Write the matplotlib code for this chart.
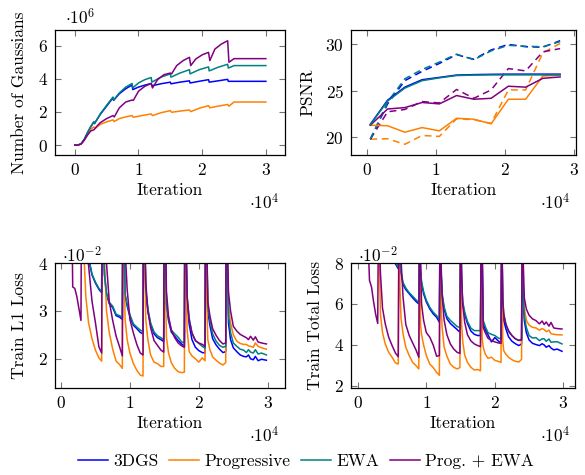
#!/usr/bin/env python3

"""
Training curves for 3DGS variants: number of Gaussians, PSNR and train losses.
"""

import matplotlib as mpl
import matplotlib.pyplot as plt
from matplotlib.lines import Line2D

mpl.use("Agg")

plt.rcParams["font.family"] = "cmr10"
plt.rcParams["mathtext.fontset"] = "cm"
plt.rcParams["axes.formatter.use_mathtext"] = True
plt.rcParams["font.size"] = 12.5

methods = ["3DGS", "Progressive", "EWA", "Prog. + EWA"]
colors = ["#0000ff", "#ff8000", "#008080", "#800080"]

# Number of Gaussians (x in 1e4 iterations, y in 1e6)
gauss_iter_3dgs = [0, 0.05, 0.1, 0.15, 0.2, 0.25, 0.3, 0.31, 0.4, 0.5, 0.6, 0.61, 0.7, 0.8, 0.9,
                   0.91, 1.0, 1.1, 1.2, 1.21, 1.35, 1.5, 1.51, 1.65, 1.8, 1.81, 1.95, 2.1, 2.11,
                   2.25, 2.4, 2.41, 2.5, 3.0]
gauss_3dgs = [0, 0, 0.08, 0.35, 0.75, 1.1, 1.4, 1.3, 1.85, 2.35, 2.85, 2.7, 3.1, 3.4, 3.63,
              3.35, 3.5, 3.62, 3.72, 3.58, 3.7, 3.8, 3.7, 3.8, 3.88, 3.75, 3.85, 3.95, 3.8,
              3.88, 3.97, 3.85, 3.85, 3.85]
gauss_iter_ewa = gauss_iter_3dgs
gauss_ewa = [0, 0, 0.08, 0.35, 0.75, 1.1, 1.4, 1.3, 1.88, 2.4, 2.9, 2.72, 3.15, 3.5, 3.72,
             3.45, 3.75, 3.95, 4.08, 3.8, 4.1, 4.3, 4.1, 4.35, 4.55, 4.3, 4.55, 4.72, 4.48,
             4.7, 4.88, 4.65, 4.8, 4.8]
gauss_iter_prog = [0, 0.05, 0.1, 0.15, 0.2, 0.25, 0.3, 0.32, 0.4, 0.5, 0.6, 0.62, 0.7, 0.8, 0.9,
                   0.92, 1.05, 1.2, 1.22, 1.35, 1.5, 1.52, 1.65, 1.8, 1.82, 1.95, 2.1, 2.12,
                   2.25, 2.4, 2.42, 2.5, 3.0]
gauss_prog = [0, 0, 0.06, 0.3, 0.65, 0.95, 1.1, 1.0, 1.25, 1.4, 1.52, 1.42, 1.6, 1.7, 1.78,
              1.68, 1.78, 1.88, 1.78, 1.95, 2.08, 1.98, 2.05, 2.12, 2.02, 2.22, 2.38, 2.25,
              2.35, 2.45, 2.35, 2.6, 2.6]
gauss_iter_progewa = [0, 0.05, 0.1, 0.15, 0.2, 0.25, 0.3, 0.35, 0.4, 0.5, 0.6, 0.62, 0.7, 0.8,
                      0.9, 0.92, 1.0, 1.1, 1.2, 1.22, 1.3, 1.4, 1.5, 1.52, 1.6, 1.7, 1.8, 1.82,
                      1.9, 2.0, 2.1, 2.12, 2.2, 2.3, 2.4, 2.42, 2.5, 3.0]
gauss_progewa = [0, 0, 0.06, 0.3, 0.6, 0.85, 0.92, 1.15, 1.35, 1.6, 1.78, 1.7, 2.25, 2.6,
                 2.72, 2.7, 3.25, 3.55, 3.72, 3.45, 3.95, 4.25, 4.35, 4.3, 4.8, 5.1, 5.3, 4.8,
                 5.2, 5.45, 5.6, 5.1, 5.8, 6.1, 6.3, 5.0, 5.22, 5.22]

# PSNR evaluated every 2500 iterations (solid and dashed runs)
psnr_iter = [0.05, 0.3, 0.55, 0.8, 1.05, 1.3, 1.55, 1.8, 2.05, 2.3, 2.55, 2.8]
psnr_solid_3dgs = [21.4, 24.0, 25.4, 26.2, 26.45, 26.7, 26.75, 26.78, 26.8, 26.8, 26.8, 26.8]
psnr_solid_prog = [21.3, 21.25, 20.55, 21.05, 20.7, 22.05, 21.95, 21.45, 24.1, 24.1, 26.6, 26.7]
psnr_solid_ewa = [21.35, 23.9, 25.3, 26.1, 26.4, 26.65, 26.7, 26.72, 26.72, 26.72, 26.72, 26.72]
psnr_solid_progewa = [21.3, 23.05, 23.2, 23.75, 23.6, 24.5, 24.1, 24.2, 25.5, 25.4, 26.35, 26.5]
psnr_dashed_3dgs = [19.8, 23.6, 26.1, 27.1, 27.95, 28.9, 28.4, 29.4, 30.0, 29.75, 29.7, 30.4]
psnr_dashed_prog = [19.8, 19.85, 19.25, 20.2, 20.1, 22.0, 21.9, 21.5, 25.1, 25.1, 29.1, 30.1]
psnr_dashed_ewa = [19.8, 23.8, 26.3, 27.3, 28.1, 28.95, 28.35, 29.3, 29.9, 29.8, 29.75, 30.3]
psnr_dashed_progewa = [19.8, 22.75, 23.0, 23.85, 23.7, 25.15, 24.2, 25.1, 27.4, 27.15, 29.2, 29.55]

# Train losses (x in 1e4 iterations, y in 1e-2), opacity reset every 3000 iterations
loss_iter = [0.15, 0.17, 0.2, 0.23, 0.26, 0.29,
             0.3, 0.315, 0.33, 0.36, 0.4, 0.45, 0.5, 0.55, 0.59,
             0.6, 0.615, 0.63, 0.66, 0.7, 0.75, 0.8, 0.85, 0.89,
             0.9, 0.915, 0.93, 0.96, 1.0, 1.05, 1.1, 1.15, 1.19,
             1.2, 1.215, 1.23, 1.26, 1.3, 1.35, 1.4, 1.45, 1.49,
             1.5, 1.515, 1.53, 1.56, 1.6, 1.65, 1.7, 1.75, 1.79,
             1.8, 1.815, 1.83, 1.86, 1.9, 1.95, 2.0, 2.05, 2.09,
             2.1, 2.115, 2.13, 2.16, 2.2, 2.25, 2.3, 2.35, 2.39,
             2.4, 2.415, 2.43, 2.46, 2.5, 2.55, 2.6, 2.65, 2.69, 2.72, 2.75, 2.79, 2.82, 2.86,
             2.91, 2.98]

l1_3dgs = [9, 8.5, 8, 7.5, 7, 6.8,
           6.5, 6.0, 5.5, 4.8, 4.1, 3.75, 3.58, 3.45, 3.38,
           6.5, 4.6, 3.75, 3.35, 3.15, 3.07, 2.9, 2.87, 2.82,
           6.5, 4.5, 3.32, 3.1, 2.88, 2.7, 2.63, 2.55, 2.52,
           6.5, 4.5, 3.4, 3.0, 2.72, 2.52, 2.44, 2.4, 2.36,
           6.5, 4.5, 3.11, 2.8, 2.56, 2.47, 2.38, 2.31, 2.26,
           6.5, 4.3, 3.2, 2.72, 2.4, 2.24, 2.17, 2.13, 2.12,
           6.5, 4.3, 3.0, 2.7, 2.42, 2.29, 2.2, 2.13, 2.15,
           6.5, 4.0, 2.75, 2.4, 2.23, 2.15, 2.08, 2.05, 2.04, 2.08, 2.0, 1.98, 2.05, 1.96,
           1.99, 1.97]
l1_prog = [8, 6, 5, 4.6, 4.4, 4.2,
           6.5, 5.0, 4.3, 3.3, 2.75, 2.42, 2.18, 2.02, 1.95,
           6.5, 5.0, 4.1, 3.0, 2.55, 2.2, 1.95, 1.88, 1.8,
           6.5, 4.3, 2.82, 2.4, 2.12, 1.9, 1.76, 1.66, 1.64,
           6.5, 4.0, 2.82, 2.4, 2.08, 1.93, 1.9, 1.84, 1.84,
           6.5, 3.5, 2.45, 2.12, 1.92, 1.8, 1.73, 1.71, 1.72,
           6.5, 3.6, 2.61, 2.15, 2.06, 2.0, 1.93, 2.02, 1.96,
           6.5, 3.2, 2.4, 2.19, 2.04, 1.97, 1.91, 1.87, 1.92,
           6.5, 4.0, 3.1, 2.75, 2.5, 2.37, 2.32, 2.3, 2.3, 2.27, 2.26, 2.24, 2.33, 2.26,
           2.23, 2.2]
l1_ewa = [9, 8.5, 8, 7.5, 7, 6.8,
          6.5, 6.0, 5.5, 4.8, 4.12, 3.77, 3.6, 3.47, 3.4,
          6.5, 4.6, 3.8, 3.38, 3.18, 3.1, 2.93, 2.9, 2.86,
          6.5, 4.5, 3.35, 3.14, 2.92, 2.73, 2.66, 2.6, 2.57,
          6.5, 4.5, 3.45, 3.05, 2.75, 2.56, 2.48, 2.44, 2.4,
          6.5, 4.5, 3.15, 2.85, 2.6, 2.52, 2.45, 2.35, 2.34,
          6.5, 4.4, 3.3, 2.85, 2.54, 2.38, 2.32, 2.26, 2.22,
          6.5, 4.4, 3.1, 2.8, 2.52, 2.37, 2.28, 2.24, 2.26,
          6.5, 4.0, 2.9, 2.55, 2.33, 2.26, 2.2, 2.18, 2.13, 2.19, 2.14, 2.12, 2.19, 2.1,
          2.12, 2.08]
l1_progewa = [6, 3.5, 3.47, 3.3, 3.05, 2.8,
              6.5, 5.5, 4.8, 4.3, 3.95, 3.2, 2.75, 2.25, 2.12,
              6.5, 5.5, 4.6, 4.0, 3.2, 2.8, 2.47, 2.25, 2.06,
              6.5, 5.0, 4.3, 3.45, 2.82, 2.54, 2.3, 2.12, 2.08,
              6.5, 4.8, 3.6, 3.0, 2.65, 2.38, 2.28, 2.18, 2.14,
              6.5, 4.6, 3.4, 2.89, 2.6, 2.44, 2.33, 2.27, 2.24,
              6.5, 4.4, 3.3, 2.8, 2.54, 2.38, 2.33, 2.3, 2.26,
              6.5, 4.5, 3.2, 2.9, 2.63, 2.49, 2.38, 2.31, 2.33,
              6.5, 4.3, 3.4, 3.0, 2.68, 2.58, 2.51, 2.47, 2.44, 2.4, 2.47, 2.39, 2.46, 2.35,
              2.33, 2.31]

total_3dgs = [14, 13, 12.5, 12, 11.5, 11,
              12, 11, 10.5, 10, 9.5, 9, 8.5, 7.95, 7.72,
              10, 7.9, 7.5, 6.95, 6.7, 6.5, 6.3, 6.12, 6.0,
              10, 7.6, 7.0, 6.5, 6.1, 5.76, 5.52, 5.35, 5.11,
              10, 7.5, 6.41, 5.75, 5.28, 5.05, 4.9, 4.75, 4.62,
              10, 7.0, 6.0, 5.5, 5.05, 4.68, 4.52, 4.46, 4.46,
              10, 8.5, 5.05, 4.75, 4.5, 4.15, 4.36, 4.2, 4.08,
              10, 6.0, 5.2, 4.8, 4.4, 4.18, 4.06, 3.97, 4.05,
              10, 6.3, 5.2, 4.6, 4.24, 4.08, 4.02, 3.97, 4.06, 4.0, 3.89, 3.97, 3.85, 3.76,
              3.8, 3.69]
total_prog = [12, 11, 10, 9.5, 9, 8.6,
              10, 8.0, 5.5, 4.6, 4.05, 3.64, 3.4, 3.12, 3.07,
              10, 6.8, 5.3, 4.54, 3.89, 3.48, 3.15, 2.99, 2.83,
              10, 5.0, 4.5, 4.0, 3.48, 3.07, 2.9, 2.66, 2.52,
              10, 6.0, 4.86, 3.89, 3.45, 3.07, 2.91, 2.83, 2.9,
              10, 5.0, 4.2, 3.5, 3.15, 2.91, 2.78, 2.8, 2.74,
              10, 4.3, 3.9, 3.55, 3.35, 3.4, 3.25, 3.2, 3.15,
              10, 4.2, 3.72, 3.55, 3.4, 3.28, 3.2, 3.17, 3.3,
              10, 7.0, 5.8, 5.2, 4.97, 4.86, 4.83, 4.72, 4.8, 4.75, 4.65, 4.72, 4.55, 4.52,
              4.5, 4.49]
total_ewa = [14, 13, 12.5, 12, 11.5, 11,
             12, 11, 10.5, 10, 9.5, 9, 8.5, 8.0, 7.8,
             10, 8.0, 7.6, 7.05, 6.78, 6.55, 6.38, 6.2, 6.08,
             10, 7.7, 7.1, 6.6, 6.18, 5.84, 5.6, 5.43, 5.25,
             10, 7.6, 6.55, 5.85, 5.4, 5.2, 5.05, 4.9, 4.85,
             10, 7.2, 6.15, 5.6, 5.15, 4.82, 4.7, 4.7, 4.7,
             10, 8.5, 5.2, 4.9, 4.6, 4.52, 4.46, 4.34, 4.29,
             10, 6.3, 5.5, 5.05, 4.65, 4.45, 4.3, 4.22, 4.29,
             10, 6.5, 5.4, 4.85, 4.46, 4.34, 4.36, 4.21, 4.3, 4.3, 4.18, 4.29, 4.13, 4.15,
             4.16, 4.05]
total_progewa = [9, 7.15, 6.82, 6.1, 5.5, 5.05,
                 10, 9, 7.5, 5.8, 5.03, 4.38, 3.97, 3.6, 3.43,
                 10, 9.5, 8.2, 6.33, 5.0, 4.46, 4.1, 3.75, 3.4,
                 10, 8.0, 6.0, 5.2, 4.6, 4.38, 4.0, 3.45, 3.48,
                 10, 8.0, 6.4, 5.2, 4.5, 4.05, 3.8, 3.64, 3.59,
                 10, 7.5, 6.0, 5.1, 4.5, 4.2, 4.05, 3.97, 3.92,
                 10, 8.5, 4.85, 4.6, 4.33, 4.22, 4.15, 4.1, 4.08,
                 10, 6.2, 5.5, 5.0, 4.7, 4.46, 4.3, 4.22, 4.24,
                 10, 8.0, 6.3, 5.75, 5.45, 5.27, 5.19, 5.03, 5.17, 5.0, 5.12, 4.92, 5.1, 4.83,
                 4.8, 4.78]


def style_axes(ax):
    """pgfplots-like frame with inward ticks on every side."""
    ax.tick_params(direction="in", top=True, right=True, length=4, width=0.8,
                   color="0.45", labelsize=12.5, pad=5)
    for spine in ax.spines.values():
        spine.set_linewidth(0.9)


def scale_note(ax, text, x, y):
    ax.text(x, y, text, transform=ax.transAxes, ha="center", va="center", fontsize=12.5)


def main():
    """Entry point."""
    fig = plt.figure(figsize=(5.85, 4.75), dpi=100)
    W, H = 585.0, 475.0

    def axes_px(left, top, right, bottom):
        return fig.add_axes([left / W, 1 - bottom / H, (right - left) / W, (bottom - top) / H])

    ax_g = axes_px(55, 30, 285, 155)
    ax_p = axes_px(351, 30, 576, 155)
    ax_l1 = axes_px(55, 263, 285, 388)
    ax_t = axes_px(351, 263, 575, 388)

    lw = 1.1

    # Number of Gaussians
    ax_g.plot(gauss_iter_3dgs, gauss_3dgs, color=colors[0], lw=lw)
    ax_g.plot(gauss_iter_prog, gauss_prog, color=colors[1], lw=lw)
    ax_g.plot(gauss_iter_ewa, gauss_ewa, color=colors[2], lw=lw)
    ax_g.plot(gauss_iter_progewa, gauss_progewa, color=colors[3], lw=lw)
    ax_g.set_xlim(-0.31, 3.3)
    ax_g.set_ylim(-0.6, 6.95)
    ax_g.set_xticks([0, 1, 2, 3])
    ax_g.set_yticks([0, 2, 4, 6])
    ax_g.set_ylabel("Number of Gaussians")
    ax_g.yaxis.set_label_coords(-0.12, 0.5)
    scale_note(ax_g, r"$\cdot 10^{6}$", 0.11, 1.1)

    # PSNR
    dash = (0, (4.5, 3))
    solid = [psnr_solid_3dgs, psnr_solid_prog, psnr_solid_ewa, psnr_solid_progewa]
    dashed = [psnr_dashed_3dgs, psnr_dashed_prog, psnr_dashed_ewa, psnr_dashed_progewa]
    for i in [1, 3, 0, 2]:
        ax_p.plot(psnr_iter, dashed[i], color=colors[i], lw=lw, linestyle=dash)
    for i in [1, 3, 0, 2]:
        ax_p.plot(psnr_iter, solid[i], color=colors[i], lw=lw)
    ax_p.set_xlim(-0.23, 3.03)
    ax_p.set_ylim(18.1, 31.55)
    ax_p.set_xticks([0, 1, 2, 3])
    ax_p.set_yticks([20, 25, 30])
    ax_p.set_ylabel("PSNR")
    ax_p.yaxis.set_label_coords(-0.16, 0.5)

    # Train L1 loss
    for series, c in zip([l1_3dgs, l1_prog, l1_ewa, l1_progewa], colors):
        ax_l1.plot(loss_iter, series, color=c, lw=lw)
    ax_l1.set_xlim(-0.087, 3.25)
    ax_l1.set_ylim(1.39, 4.0)
    ax_l1.set_xticks([0, 1, 2, 3])
    ax_l1.set_yticks([2, 3, 4])
    ax_l1.set_ylabel("Train L1 Loss")
    ax_l1.yaxis.set_label_coords(-0.12, 0.5)
    scale_note(ax_l1, r"$\cdot 10^{-2}$", 0.115, 1.065)

    # Train total loss
    for series, c in zip([total_3dgs, total_prog, total_ewa, total_progewa], colors):
        ax_t.plot(loss_iter, series, color=c, lw=lw)
    ax_t.set_xlim(-0.1, 3.17)
    ax_t.set_ylim(1.9, 8.0)
    ax_t.set_xticks([0, 1, 2, 3])
    ax_t.set_yticks([2, 4, 6, 8])
    ax_t.set_ylabel("Train Total Loss")
    ax_t.yaxis.set_label_coords(-0.125, 0.5)
    scale_note(ax_t, r"$\cdot 10^{-2}$", 0.12, 1.065)

    for ax in [ax_g, ax_p, ax_l1, ax_t]:
        style_axes(ax)
        ax.set_xlabel("Iteration")
        ax.xaxis.set_label_coords(0.5, -0.225)
        scale_note(ax, r"$\cdot 10^{4}$", 0.91, -0.375)

    handles = [Line2D([], [], color=c, lw=lw) for c in colors]
    fig.legend(handles, methods, loc="center", bbox_to_anchor=(0.523, 0.028), ncol=4,
               frameon=False, handlelength=1.75, handletextpad=0.3, columnspacing=0.6,
               fontsize=12.5)

    fig.savefig("out.png", dpi=100)


if __name__ == "__main__":
    main()
